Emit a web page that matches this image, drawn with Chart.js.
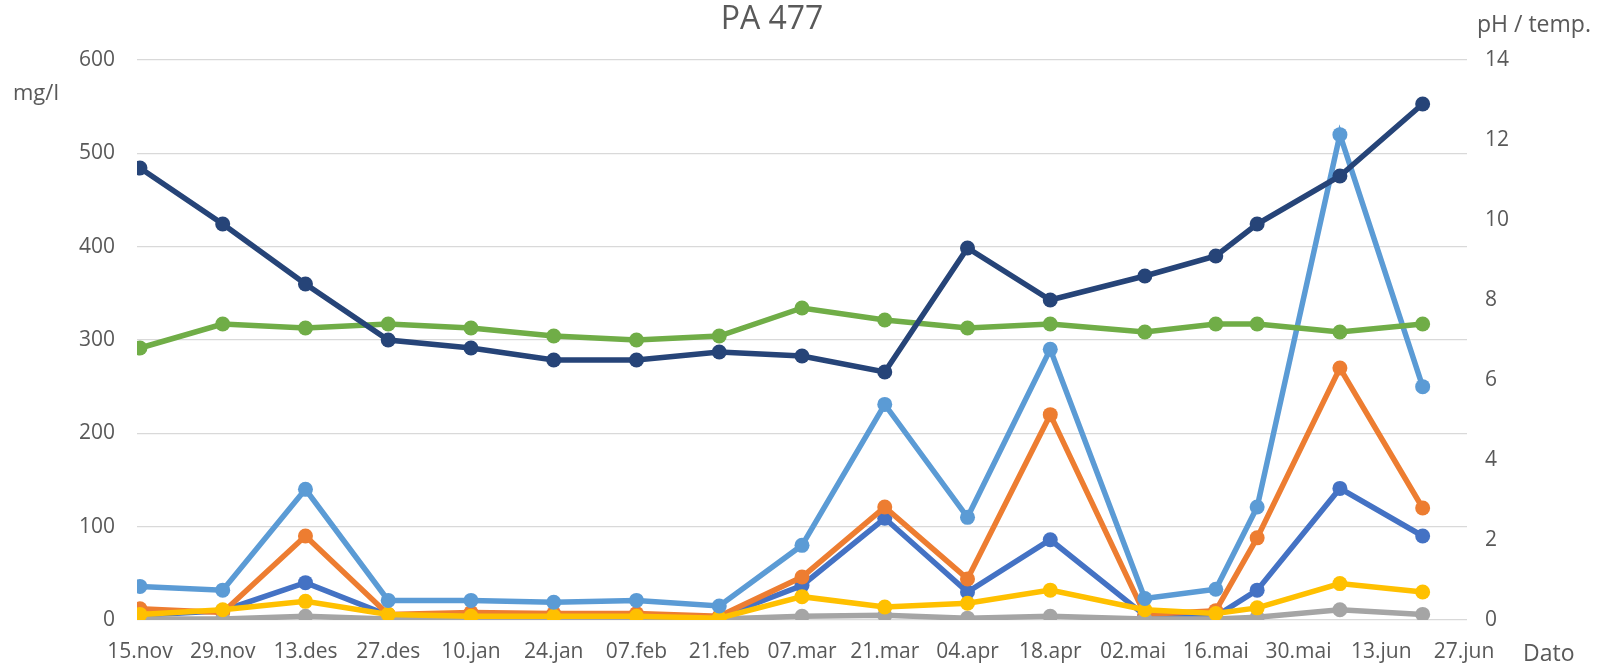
<!DOCTYPE html>
<html>
<head>
<meta charset="utf-8">
<title>PA 477</title>
<script src="https://cdn.jsdelivr.net/npm/chart.js@4/dist/chart.umd.min.js"></script>
<style>
  html, body { margin: 0; padding: 0; background: #fff; }
</style>
</head>
<body>
<canvas id="myChart" width="1598" height="666"></canvas>
<script>
// days counted from 15.nov
const sampleDays = [0, 14, 28, 42, 56, 70, 84, 98, 112, 126, 140, 154, 170, 182, 189, 203, 217];
const tickDays = [0, 14, 28, 42, 56, 70, 84, 98, 112, 126, 140, 154, 168, 182, 196, 210, 224];
const tickLabels = ['15.nov', '29.nov', '13.des', '27.des', '10.jan', '24.jan', '07.feb', '21.feb',
    '07.mar', '21.mar', '04.apr', '18.apr', '02.mai', '16.mai', '30.mai', '13.jun', '27.jun'];

// mg/l (left axis)
const blueValues = [5, 10, 40, 5, 4, 4, 4, 3, 37, 109, 30, 86, 5, 4, 32, 141, 90];
const orangeValues = [12, 8, 90, 6, 8, 7, 7, 4, 46, 121, 44, 220, 6, 10, 88, 270, 120];
const grayValues = [1, 1, 4, 1, 2, 2, 2, 1, 4, 5, 2, 4, 1, 1, 3, 11, 6];
const yellowValues = [6, 11, 20, 6, 4, 4, 4, 2, 25, 14, 18, 32, 11, 7, 13, 39, 30];
const lightBlueValues = [36, 32, 140, 21, 21, 19, 21, 15, 80, 231, 110, 290, 23, 33, 121, 520, 250];
// pH / temp. (right axis)
const phValues = [6.8, 7.4, 7.3, 7.4, 7.3, 7.1, 7.0, 7.1, 7.8, 7.5, 7.3, 7.4, 7.2, 7.4, 7.4, 7.2, 7.4];
const tempValues = [11.3, 9.9, 8.4, 7.0, 6.8, 6.5, 6.5, 6.7, 6.6, 6.2, 9.3, 8.0, 8.6, 9.1, 9.9, 11.1, 12.9];

const textColor = '#595959';
const fontName = '"Open Sans", sans-serif';

const toPoints = (values) => values.map((v, i) => ({x: sampleDays[i], y: v}));

const makeSet = (label, values, color, axis, order) => ({
    label: label,
    data: toPoints(values),
    borderColor: color,
    backgroundColor: color,
    pointBackgroundColor: color,
    pointBorderWidth: 0,
    pointRadius: 7.5,
    pointHoverRadius: 7.5,
    borderWidth: 5.5,
    tension: 0,
    yAxisID: axis,
    order: order
});

// titles that Excel put in the corners
const cornerText = {
    id: 'cornerText',
    afterDraw(chart) {
        const ctx = chart.ctx;
        ctx.save();
        ctx.fillStyle = textColor;
        ctx.textBaseline = 'alphabetic';
        ctx.textAlign = 'center';
        ctx.font = '32px ' + fontName;
        ctx.fillText('PA 477', 772, 29);
        ctx.textAlign = 'left';
        ctx.font = '22px ' + fontName;
        ctx.fillText('mg/l', 13, 100);
        ctx.font = '23px ' + fontName;
        ctx.fillText('pH / temp.', 1477, 32);
        ctx.fillText('Dato', 1523, 661);
        ctx.restore();
    }
};

const ctx = document.getElementById('myChart').getContext('2d');
const myChart = new Chart(ctx, {
    type: 'line',
    data: {
        datasets: [
            makeSet('Serie 1', blueValues, '#4472C4', 'y', 6),
            makeSet('Serie 2', orangeValues, '#ED7D31', 'y', 5),
            makeSet('Serie 3', grayValues, '#A5A5A5', 'y', 4),
            makeSet('Serie 4', yellowValues, '#FFC000', 'y', 3),
            makeSet('Serie 5', lightBlueValues, '#5B9BD5', 'y', 2),
            makeSet('pH', phValues, '#70AD47', 'y1', 1),
            makeSet('temp.', tempValues, '#264478', 'y1', 0)
        ]
    },
    options: {
        responsive: false,
        animation: false,
        devicePixelRatio: 1,
        layout: {padding: {top: 60, left: 0, right: 0, bottom: 0}},
        plugins: {
            legend: {display: false},
            title: {display: false},
            tooltip: {enabled: false}
        },
        scales: {
            x: {
                type: 'linear',
                min: -0.5,
                max: 224.5,
                grid: {display: false},
                border: {display: false},
                afterBuildTicks: (scale) => {
                    scale.ticks = tickDays.map(d => ({value: d}));
                },
                afterFit: (scale) => { scale.height = 46; },
                ticks: {
                    autoSkip: false,
                    maxRotation: 0,
                    padding: 11,
                    color: textColor,
                    font: {family: fontName, size: 21},
                    callback: (value) => tickLabels[tickDays.indexOf(value)]
                }
            },
            y: {
                position: 'left',
                min: 0,
                max: 600,
                grid: {color: '#D9D9D9', lineWidth: 1.3, drawTicks: false},
                border: {display: false},
                afterFit: (scale) => { scale.width = 137; },
                ticks: {
                    stepSize: 100,
                    padding: 22,
                    color: textColor,
                    font: {family: fontName, size: 21}
                }
            },
            y1: {
                position: 'right',
                min: 0,
                max: 14,
                grid: {display: false, drawTicks: false},
                border: {display: false},
                afterFit: (scale) => { scale.width = 131; },
                ticks: {
                    stepSize: 2,
                    padding: 18,
                    color: textColor,
                    font: {family: fontName, size: 21}
                }
            }
        }
    },
    plugins: [cornerText]
});
</script>
</body>
</html>
